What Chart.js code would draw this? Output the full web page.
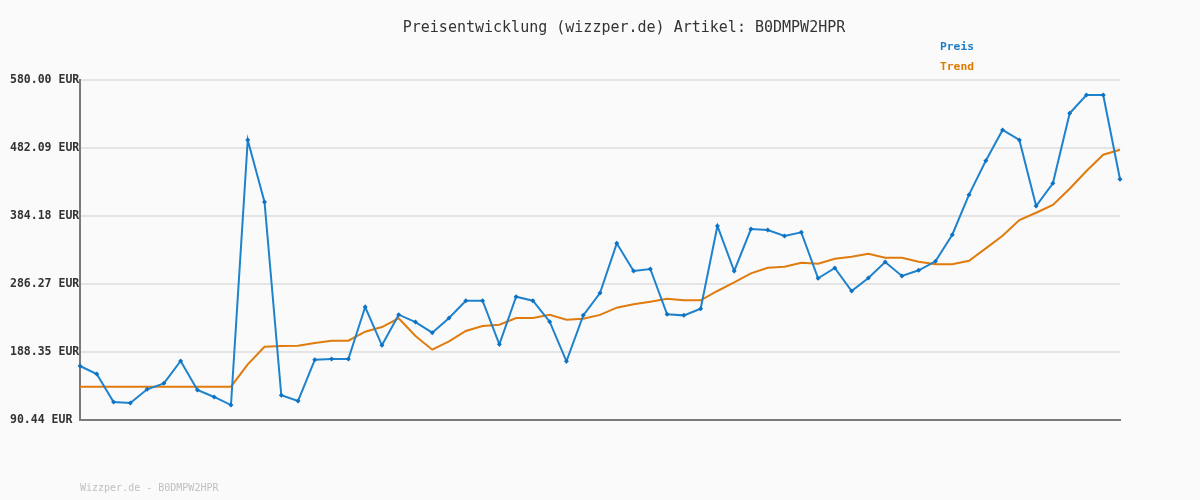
<!DOCTYPE html>
<html>
<head>
<meta charset="utf-8">
<script src="https://cdn.jsdelivr.net/npm/chart.js@4.4.1/dist/chart.umd.min.js"></script>
<style>
  html, body { margin: 0; padding: 0; background: #fafafa; }
  #wrap { width: 1200px; height: 500px; position: relative; }
</style>
</head>
<body>
<div id="wrap"><canvas id="chart" width="1200" height="500"></canvas></div>
<script>
// Werte
const titleText = "Preisentwicklung (wizzper.de) Artikel: B0DMPW2HPR";
const footerText = "Wizzper.de - B0DMPW2HPR";
const seriesNames = ["Preis", "Trend"];
const tickValues = [90.44, 188.35, 286.27, 384.18, 482.09, 580.00];

const preis = [
  168.2, 156.7, 116.4, 115.0, 134.6, 143.2, 175.4, 133.6, 123.6, 112.0,
  493.6, 404.3, 126.0, 117.8, 177.3, 178.3, 178.3, 253.1, 198.0, 242.1,
  231.5, 216.2, 237.3, 262.2, 262.2, 199.4, 268.0, 262.2, 232.0, 175.0,
  241.1, 273.3, 344.8, 305.0, 307.9, 242.6, 241.1, 250.7, 369.8, 305.0,
  365.4, 364.0, 355.4, 360.7, 294.4, 309.3, 276.2, 294.9, 317.9, 297.8,
  306.0, 318.9, 357.3, 414.9, 463.8, 508.0, 493.6, 398.6, 431.2, 532.0,
  558.4, 558.4, 437.0
];

const trend = [
  138.4, 138.4, 138.4, 138.4, 138.4, 138.4, 138.4, 138.4, 138.4, 138.4,
  170.6, 196.0, 197.0, 197.5, 201.3, 204.6, 204.6, 217.6, 224.3, 236.9,
  211.4, 191.7, 203.7, 218.6, 225.8, 227.7, 237.3, 237.3, 242.1, 234.9,
  236.3, 241.8, 252.2, 257.0, 260.8, 265.1, 262.8, 262.8, 276.2, 288.7,
  301.6, 309.7, 311.2, 316.9, 315.4, 322.7, 325.6, 329.9, 324.1, 324.1,
  318.4, 314.6, 314.6, 319.8, 337.6, 355.8, 378.4, 388.9, 400.0, 423.5,
  449.0, 472.4, 479.6
];

const labels = preis.map((_, i) => String(i + 1));

const BLUE = "#1e82cc";
const ORANGE = "#e07b0e";
const MONO = "'DejaVu Sans Mono', 'Liberation Mono', monospace";

// Titel, Legende und Fußzeile selbst zeichnen
const extraText = {
  id: "extraText",
  beforeDraw(chart) {
    const c = chart.ctx;
    c.save();
    c.fillStyle = "#fafafa";
    c.fillRect(0, 0, chart.width, chart.height);
    c.restore();
  },
  afterDraw(chart) {
    const c = chart.ctx;
    c.save();
    c.textBaseline = "middle";
    c.textAlign = "center";
    c.fillStyle = "#333";
    c.font = "15px " + MONO;
    c.fillText(titleText, 624, 28);

    c.textAlign = "left";
    c.font = "bold 11.3px " + MONO;
    c.fillStyle = "#1a7cc4";
    c.fillText(seriesNames[0], 940, 47);
    c.fillStyle = "#e07b00";
    c.fillText(seriesNames[1], 940, 67);

    c.font = "10px " + MONO;
    c.fillStyle = "#c0c0c0";
    c.fillText(footerText, 80, 488);
    c.restore();
  }
};

new Chart(document.getElementById("chart"), {
  type: "line",
  data: {
    labels: labels,
    datasets: [
      {
        label: seriesNames[1],
        data: trend,
        borderColor: ORANGE,
        borderWidth: 2,
        pointRadius: 0,
        tension: 0,
        clip: false,
        order: 2
      },
      {
        label: seriesNames[0],
        data: preis,
        borderColor: BLUE,
        backgroundColor: "#0d72c2",
        borderWidth: 2,
        pointStyle: "rectRot",
        pointRadius: 2.5,
        pointBorderWidth: 0,
        pointBackgroundColor: "#0d72c2",
        tension: 0,
        clip: false,
        order: 1
      }
    ]
  },
  options: {
    responsive: false,
    animation: false,
    layout: { padding: { top: 80, right: 80, left: 10, bottom: 0 } },
    plugins: {
      legend: { display: false },
      title: { display: false },
      tooltip: { enabled: false }
    },
    scales: {
      x: {
        type: "category",
        offset: false,
        grid: { display: false, drawTicks: false },
        border: { display: true, color: "#7a7a7a", width: 2 },
        ticks: { display: false },
        afterFit: s => { s.height = 80; }
      },
      y: {
        min: tickValues[0],
        max: tickValues[tickValues.length - 1],
        afterBuildTicks: s => { s.ticks = tickValues.map(v => ({ value: v })); },
        afterFit: s => { s.width = 70; },
        grid: { color: "#e4e4e4", lineWidth: 2, drawTicks: false },
        border: { display: true, color: "#7a7a7a", width: 2 },
        ticks: {
          crossAlign: "far",
          padding: 0,
          color: "#333",
          font: { family: MONO, size: 11.5, weight: "bold" },
          callback: v => Number(v).toFixed(2) + " EUR"
        }
      }
    }
  },
  plugins: [extraText]
});
</script>
</body>
</html>
